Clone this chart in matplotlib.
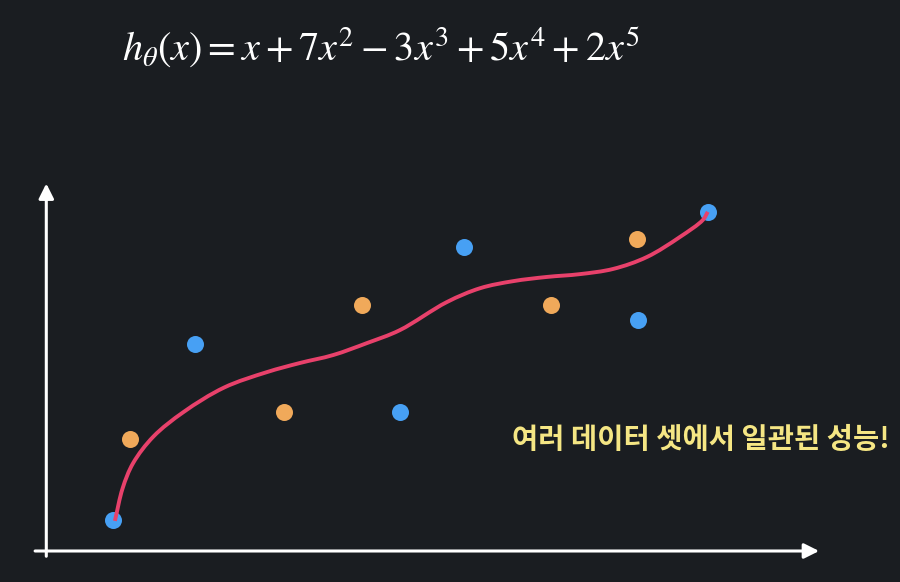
import matplotlib
matplotlib.use("Agg")
import matplotlib.pyplot as plt
from matplotlib.path import Path
from matplotlib.patches import PathPatch

# data (abstract units, origin at the axis corner)
blue_x = [0.94, 2.11, 5.04, 5.96, 8.44, 9.44]
blue_y = [0.89, 5.91, 3.97, 8.69, 6.60, 9.69]
orange_x = [1.19, 3.39, 4.50, 7.20, 8.43]
orange_y = [3.20, 3.97, 7.03, 7.03, 8.91]
curve_x = [0.97, 1.08, 1.23, 1.52, 1.95, 2.53, 3.14, 3.61, 4.09, 4.57, 5.04,
           5.71, 6.19, 6.66, 7.14, 7.61, 8.09, 8.57, 9.04, 9.37, 9.44]
curve_y = [0.86, 1.79, 2.51, 3.27, 3.97, 4.67, 5.11, 5.37, 5.60, 5.94, 6.31,
           7.11, 7.51, 7.71, 7.83, 7.91, 8.06, 8.40, 8.97, 9.46, 9.69]
formula = r"$h_{\theta}(x) = x + 7x^2 - 3x^3 + 5x^4 + 2x^5$"
caption = "여러 데이터 셋에서 일관된 성능!"

BG = "#1a1d21"
SX, SY = 70.0, 35.0   # pixels per unit, used for knot spacing
plt.rcParams["mathtext.fontset"] = "stix"


def smooth_path(xs, ys):
    # centripetal Catmull-Rom through the points, as cubic Bezier segments
    pts = list(zip(xs, ys))
    n = len(pts)
    first = (2 * pts[0][0] - pts[1][0], 2 * pts[0][1] - pts[1][1])
    last = (2 * pts[-1][0] - pts[-2][0], 2 * pts[-1][1] - pts[-2][1])
    ext = [first] + pts + [last]

    def gap(a, b):
        return (((b[0] - a[0]) * SX) ** 2 + ((b[1] - a[1]) * SY) ** 2) ** 0.25

    verts = [pts[0]]
    codes = [Path.MOVETO]
    for i in range(1, n):
        p0, p1, p2, p3 = ext[i - 1], ext[i], ext[i + 1], ext[i + 2]
        d01, d12, d23 = gap(p0, p1), gap(p1, p2), gap(p2, p3)
        m1 = [d12 * ((p1[k] - p0[k]) / d01 - (p2[k] - p0[k]) / (d01 + d12)
                     + (p2[k] - p1[k]) / d12) for k in range(2)]
        m2 = [d12 * ((p2[k] - p1[k]) / d12 - (p3[k] - p1[k]) / (d12 + d23)
                     + (p3[k] - p2[k]) / d23) for k in range(2)]
        c1 = (p1[0] + m1[0] / 3, p1[1] + m1[1] / 3)
        c2 = (p2[0] - m2[0] / 3, p2[1] - m2[1] / 3)
        verts += [c1, c2, p2]
        codes += [Path.CURVE4] * 3
    return Path(verts, codes)


fig = plt.figure(figsize=(9, 5.82), dpi=100, facecolor=BG)
ax = fig.add_axes([0, 0, 1, 1])
ax.set_facecolor(BG)
ax.set_xlim(-47 / SX, (900 - 47) / SX)
ax.set_ylim((551 - 582) / SY, 551 / SY)
ax.axis("off")

# axes arrows
arrow = dict(arrowstyle="-|>,head_length=0.9,head_width=0.45", color="white",
             lw=2.2, shrinkA=0, shrinkB=0)
ax.annotate("", xy=(-0.01, 10.5), xytext=(-0.01, -0.15), arrowprops=arrow)
ax.annotate("", xy=(11.03, 0.0), xytext=(-0.17, 0.0), arrowprops=arrow)

ax.scatter(blue_x, blue_y, s=150, color="#47a0f4", zorder=3, linewidths=0)
ax.scatter(orange_x, orange_y, s=150, color="#f0a95a", zorder=3, linewidths=0)
ax.add_patch(PathPatch(smooth_path(curve_x, curve_y), facecolor="none",
                       edgecolor="#e8416b", lw=2.8, zorder=4, capstyle="butt"))

fig.text(0.423, 0.918, formula, color="white", fontsize=29,
         ha="center", va="center")
ax.text(9.34, 3.17, caption, color="#f5e684", fontsize=20.5, fontweight="bold",
        family=["Noto Sans CJK KR", "DejaVu Sans"], ha="center", va="center")

fig.savefig("out.png", dpi=100, facecolor=BG)
